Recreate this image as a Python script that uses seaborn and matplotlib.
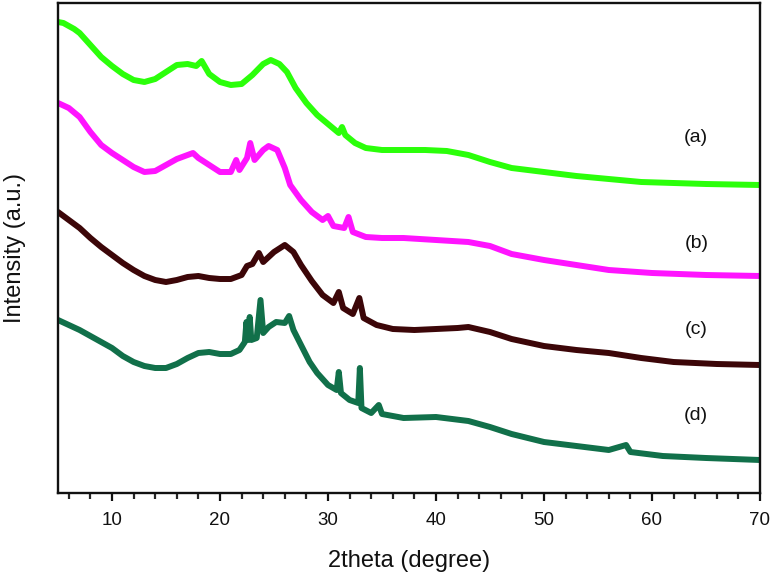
import numpy as np
import pandas as pd
import matplotlib
matplotlib.use("Agg")
import matplotlib.pyplot as plt
import seaborn as sns
from matplotlib.ticker import MultipleLocator

# ---- data (intensity in arbitrary units) ----
a_x = [5, 5.5, 6, 6.5, 7, 8, 9, 10, 11, 12, 13, 14, 15, 16, 17, 17.8, 18.3, 19, 20, 21, 22,
       23, 24, 24.7, 25.5, 26.2, 27, 28, 29, 30, 31, 31.3, 31.6, 32.5, 33.5, 35, 37, 39, 41,
       43, 45, 47, 50, 53, 56, 59, 62, 65, 70]
a_y = [471, 470, 467, 464, 460, 448, 436, 427, 419, 413, 411, 414, 421, 428, 429, 427, 432,
       419, 411, 408, 409, 418, 429, 433, 429, 421, 405, 390, 378, 369, 360, 366, 358, 350,
       345, 343, 343, 343, 342, 338, 331, 325, 321, 317, 314, 311, 310, 309, 308]

b_x = [5, 6, 7, 8, 9, 10, 11, 12, 13, 14, 15, 16, 17, 17.5, 18, 19, 20, 21, 21.5, 21.8,
       22.5, 22.8, 23.2, 24, 24.5, 25.3, 26, 26.5, 27.5, 28.5, 29.5, 30, 30.5, 31.5, 31.9,
       32.3, 33.5, 35, 37, 40, 43, 45, 47, 50, 53, 56, 60, 65, 70]
b_y = [390, 385, 376, 361, 348, 340, 333, 326, 321, 322, 328, 334, 338, 340, 335, 328, 321,
       321, 333, 323, 335, 350, 333, 343, 347, 343, 325, 308, 293, 281, 273, 277, 267, 265,
       276, 261, 256, 255, 255, 253, 251, 247, 239, 233, 228, 223, 220, 218, 217]

c_x = [5, 6, 7, 8, 9, 10, 11, 12, 13, 14, 15, 16, 17, 18, 19, 20, 21, 22, 22.5, 23, 23.6,
       24, 25, 26, 26.8, 27.5, 28.5, 29.5, 30.5, 31, 31.4, 32.3, 32.9, 33.3, 34.5, 36, 38,
       40, 42, 43, 45, 47, 50, 53, 56, 59, 62, 66, 70]
c_y = [281, 273, 265, 255, 246, 238, 230, 223, 217, 213, 211, 213, 216, 217, 215, 214, 214,
       218, 227, 229, 240, 231, 241, 248, 241, 228, 212, 198, 190, 201, 185, 179, 195, 175,
       168, 164, 163, 164, 165, 166, 161, 154, 147, 143, 140, 135, 131, 129, 128]

d_x = [5, 6, 7, 8, 9, 10, 11, 12, 13, 14, 15, 16, 17, 18, 19, 20, 21, 21.8, 22.3, 22.45,
       22.6, 22.75, 22.9, 23.4, 23.75, 24.0, 24.5, 25.2, 26, 26.4, 26.8, 27.5, 28.3, 29, 30,
       30.8, 31.0, 31.2, 32, 32.8, 32.95, 33.1, 34, 34.7, 35, 37, 40, 43, 45, 47, 50, 53,
       56, 57.6, 58, 61, 65, 70]
d_y = [173, 168, 163, 157, 151, 145, 137, 131, 127, 125, 125, 129, 135, 140, 141, 139, 139,
       143, 151, 171, 153, 176, 153, 155, 193, 160, 166, 171, 170, 177, 163, 148, 131, 120,
       108, 103, 121, 100, 93, 90, 125, 85, 80, 88, 79, 75, 76, 72, 66, 59, 51, 47, 43, 48,
       41, 37, 35, 33]

labels = ["(a)", "(b)", "(c)", "(d)"]
label_y = [356, 250, 163, 78]
label_x = 64.1
colors = ["#2bff0a", "#ff14ff", "#3c0608", "#11704a"]

xticks = [10, 20, 30, 40, 50, 60, 70]

# ---- build long table ----
frames = []
for lab, xs, ys in zip(labels, [a_x, b_x, c_x, d_x], [a_y, b_y, c_y, d_y]):
    frames.append(pd.DataFrame({"theta": xs, "intensity": ys, "sample": lab}))
df = pd.concat(frames, ignore_index=True)

sns.set_style("white")
plt.rcParams["font.family"] = ["Liberation Sans", "DejaVu Sans"]

fig = plt.figure(figsize=(7.74, 5.78), dpi=100)
ax = fig.add_axes([58 / 774, 1 - 493 / 578, 702 / 774, 490 / 578])

sns.lineplot(data=df, x="theta", y="intensity", hue="sample", palette=colors,
             estimator=None, sort=False, linewidth=4.3, legend=False, ax=ax)

for lab, ly in zip(labels, label_y):
    ax.text(label_x, ly, lab, ha="center", va="center", fontsize=14, color="#111111")

ax.set_xlim(5, 70)
ax.set_ylim(0, 490)
ax.set_yticks([])
ax.set_xticks(xticks)
ax.xaxis.set_minor_locator(MultipleLocator(2))
ax.tick_params(axis="x", which="major", direction="out", length=6, width=1.6,
               labelsize=13.5, pad=8, bottom=True, colors="#111111")
ax.tick_params(axis="x", which="minor", direction="out", length=4, width=1.6, bottom=True)
for sp in ax.spines.values():
    sp.set_linewidth(1.7)
    sp.set_color("#111111")

ax.set_xlabel("2theta (degree)", fontsize=17, va="center", color="#111111")
ax.xaxis.set_label_coords(0.5, (493 - 561) / 490)
ax.set_ylabel("Intensity (a.u.)", fontsize=17, va="center", color="#111111")
ax.yaxis.set_label_coords((15 - 58) / 702, 0.5)

fig.savefig("out.png", dpi=100)
